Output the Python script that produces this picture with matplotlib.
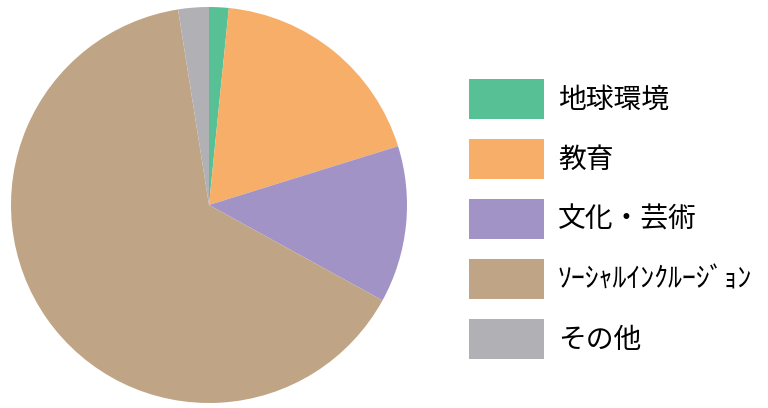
import matplotlib.pyplot as plt
from matplotlib.patches import Patch

plt.rcParams['font.family'] = ['Noto Sans CJK JP', 'DejaVu Sans']

labels = ["地球環境", "教育", "文化・芸術", "ｿｰｼｬﾙｲﾝｸﾙｰｼﾞｮﾝ", "その他"]
shares = [1.6, 18.6, 12.8, 64.5, 2.5]
colors = ["#57C195", "#F7AE68", "#A193C6", "#BFA585", "#B1B0B5"]

fig = plt.figure(figsize=(7.68, 4.08), dpi=100)
ax = fig.add_axes([11 / 768, 5 / 408, 396 / 768, 396 / 408])
ax.pie(shares, colors=colors, startangle=90, counterclock=False,
       wedgeprops=dict(linewidth=0))
ax.set_xlim(-1, 1)
ax.set_ylim(-1, 1)
ax.set_aspect("equal")
ax.axis("off")

# legend boxes 75x40 px, rows 60 px apart
handles = [Patch(facecolor=c, edgecolor="none") for c in colors]
fs = 20
px = fs * 100 / 72
fig.legend(handles, labels, loc="upper left",
           bbox_to_anchor=(469 / 768, 1 - 79 / 408),
           frameon=False, fontsize=fs,
           handlelength=75 / px, handleheight=(40 / px - 0.245) / 0.65,
           handletextpad=14 / px, labelspacing=20 / px, borderpad=0, borderaxespad=0)

fig.savefig("out.png", dpi=100)
